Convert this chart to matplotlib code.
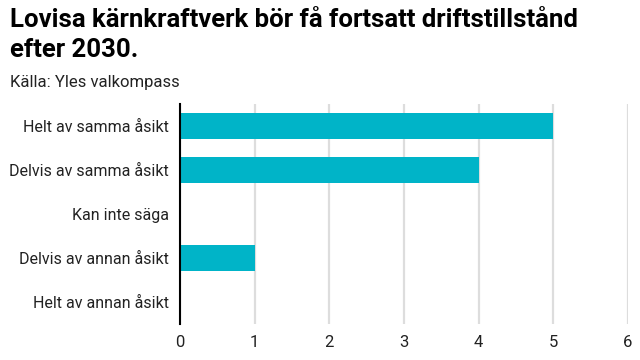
import matplotlib
matplotlib.use("Agg")
import matplotlib.pyplot as plt
from matplotlib import font_manager

categories = ["Helt av samma åsikt", "Delvis av samma åsikt", "Kan inte säga",
              "Delvis av annan åsikt", "Helt av annan åsikt"]
values = [5, 4, 0, 1, 0]
xticks = [0, 1, 2, 3, 4, 5, 6]

names = {f.name for f in font_manager.fontManager.ttflist}
font = "Liberation Sans Narrow" if "Liberation Sans Narrow" in names else "Roboto"
plt.rcParams["font.family"] = [font, "DejaVu Sans"]

fig = plt.figure(figsize=(6.4, 3.6), dpi=100)
ax = fig.add_axes([180 / 640, 1 - 324 / 360, 448 / 640, 220 / 360])

y = list(range(len(categories)))
ax.barh(y, values, height=0.6, color="#00b4c8", zorder=3)
ax.set_ylim(len(categories) - 0.5, -0.5)
ax.set_xlim(0, 6)
ax.set_xticks(xticks)
ax.set_yticks(y)
ax.set_yticklabels(categories, fontsize=11.5, color="#222222")
ax.tick_params(axis="x", labelsize=12, colors="#222222", length=0, pad=8)
ax.tick_params(axis="y", length=0, pad=8)
ax.grid(axis="x", color="#dddddd", linewidth=1.6, zorder=0)
for s in ["top", "right", "bottom"]:
    ax.spines[s].set_visible(False)
ax.spines["left"].set_color("black")
ax.spines["left"].set_linewidth(1.5)
ax.spines["left"].set_zorder(4)

fig.text(10 / 640, 1 - 8 / 360, "Lovisa kärnkraftverk bör få fortsatt driftstillstånd\nefter 2030.",
         fontsize=18.5, fontweight="bold", va="top", ha="left", linespacing=1.3)
fig.text(10 / 640, 1 - 75 / 360, "Källa: Yles valkompass", fontsize=12, va="top", ha="left",
         color="#222222")

fig.savefig("out.png", dpi=100)
